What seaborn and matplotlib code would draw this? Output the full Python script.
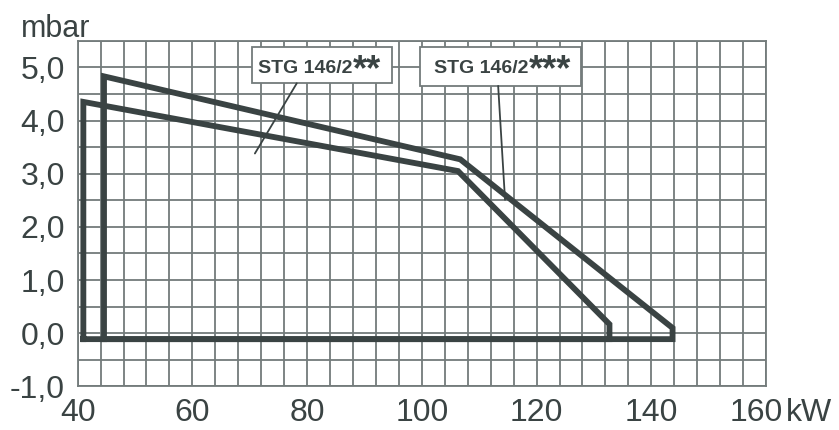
import pandas as pd
import matplotlib.pyplot as plt
import matplotlib.patches as mpatches
import matplotlib.transforms as mtransforms
import seaborn as sns

# --- DADOS ---
# STG 146/2** (curva interna)
kw_2 = [41.0, 41.0, 106.3, 132.7, 132.7, 41.0]
mbar_2 = [-0.11, 4.35, 3.05, 0.17, -0.11, -0.11]
# STG 146/2*** (curva externa)
kw_3 = [44.6, 44.6, 106.7, 143.7, 143.7, 44.6]
mbar_3 = [-0.11, 4.83, 3.27, 0.10, -0.11, -0.11]

x_ticks = [40, 60, 80, 100, 120, 140, 160]
x_labels = ['40', '60', '80', '100', '120', '140', '160']
y_ticks = [-1, 0, 1, 2, 3, 4, 5]
y_labels = ['-1,0', '0,0', '1,0', '2,0', '3,0', '4,0', '5,0']

# caixas de legenda: nome, estrelas, inicio do texto, caixa, ponteiro
label_names = ['STG 146/2', 'STG 146/2']
label_stars = ['**', '***']
label_text_pos = [(71.5, 4.89), (102.2, 4.89)]
label_boxes = [(70.35, 94.75, 4.70, 5.39), (99.7, 127.8, 4.65, 5.38)]
label_ptr_start = [(78.2, 4.70), (113.3, 4.65)]
label_ptr_end = [(70.9, 3.38), (114.5, 2.51)]

# --- ESTILO ---
sns.set_style('white')
plt.rcParams['font.family'] = ['Liberation Sans', 'DejaVu Sans']
cor_linha = '#3a4343'
cor_grade = '#737b7b'
cor_texto = '#3a4343'

fig = plt.figure(figsize=(8.39, 4.30), dpi=100)
ax = fig.add_axes([0.0925, 0.1012, 0.8206, 0.8041])

df = pd.concat([
    pd.DataFrame({'kW': kw_2, 'mbar': mbar_2, 'tipo': '**'}),
    pd.DataFrame({'kW': kw_3, 'mbar': mbar_3, 'tipo': '***'}),
])

for tipo, sub in df.groupby('tipo'):
    sns.lineplot(data=sub, x='kW', y='mbar', sort=False, estimator=None,
                 color=cor_linha, linewidth=4.2, ax=ax, zorder=3,
                 solid_joinstyle='miter', solid_capstyle='projecting')

ax.set_xlim(40, 160)
ax.set_ylim(-1, 5.5)

# grade
ax.set_xticks(x_ticks)
ax.set_xticklabels(x_labels, fontsize=23, color=cor_texto)
ax.set_xticks(range(40, 161, 4), minor=True)
ax.set_yticks(y_ticks)
ax.set_yticklabels(y_labels, fontsize=23, color=cor_texto)
ax.set_yticks([v / 2 for v in range(-2, 12)], minor=True)
ax.grid(True, which='both', color=cor_grade, linewidth=1.3)
ax.tick_params(which='major', length=5.5, width=1.3, color=cor_grade)
ax.tick_params(axis='y', which='major', pad=3.5)
ax.tick_params(axis='x', which='major', pad=3)
ax.tick_params(which='minor', length=0)
for s in ax.spines.values():
    s.set_color(cor_grade)
    s.set_linewidth(1.3)
ax.set_xlabel('')
ax.set_ylabel('')

# o rotulo 160 fica um pouco a esquerda, seguido de kW
ultimo = ax.get_xticklabels()[-1]
ultimo.set_transform(ultimo.get_transform() +
                     mtransforms.ScaledTranslation(-10 / 100, 0, fig.dpi_scale_trans))

# unidades
fig.text(0.0247, 0.9147, 'mbar', fontsize=22, color=cor_texto, va='baseline', ha='left')
fig.text(0.937, 0.0215, 'kW', fontsize=23, color=cor_texto, va='baseline', ha='left')

# caixas com os nomes
for nome, estrelas, pos, caixa, p0, p1 in zip(label_names, label_stars, label_text_pos,
                                              label_boxes, label_ptr_start, label_ptr_end):
    x0, x1, y0, y1 = caixa
    ax.add_patch(mpatches.Rectangle((x0, y0), x1 - x0, y1 - y0, facecolor='white',
                                    edgecolor=cor_grade, linewidth=1.3, zorder=4))
    ax.plot([p0[0], p1[0]], [p0[1], p1[1]], color=cor_linha, linewidth=1.3, zorder=4)
    t = ax.text(pos[0], pos[1], nome, fontsize=14, fontweight='bold', color=cor_texto,
                ha='left', va='baseline', zorder=5)
    ax.annotate(estrelas, xy=(1, 1), xycoords=t, xytext=(0, 5), textcoords='offset points',
                fontsize=26, fontweight='bold', color=cor_texto, ha='left', va='top',
                zorder=5)

fig.savefig('out.png', dpi=100)
